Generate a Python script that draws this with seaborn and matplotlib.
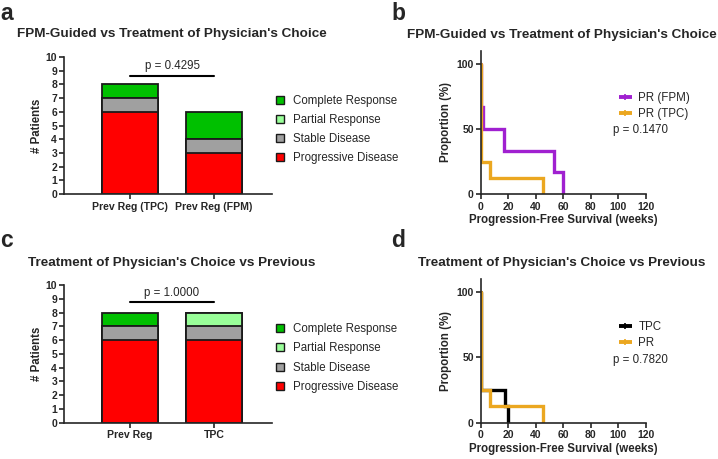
import numpy as np
import pandas as pd
import matplotlib
matplotlib.use("Agg")
import matplotlib.pyplot as plt
from matplotlib.lines import Line2D
import seaborn as sns

# 데이터: 반응별 환자 수
responses = ['Complete Response', 'Partial Response', 'Stable Disease', 'Progressive Disease']
resp_colors = ['#00C000', '#99FF99', '#A0A0A0', '#FF0000']

cats_a = ['Prev Reg (TPC)', 'Prev Reg (FPM)']
pd_a = [6, 3]
sd_a = [1, 1]
pr_a = [0, 0]
cr_a = [1, 2]

cats_c = ['Prev Reg', 'TPC']
pd_c = [6, 6]
sd_c = [1, 1]
pr_c = [0, 1]
cr_c = [1, 0]

# 무진행 생존 (weeks, %)
fpm_t = [0, 0, 2, 17, 53, 60]
fpm_s = [100, 66.7, 50, 33.3, 16.7, 0]
tpc_b_t = [0, 0, 7, 45]
tpc_b_s = [100, 25, 12.5, 0]
tpc_d_t = [0, 0, 18, 20]
tpc_d_s = [100, 25, 12.5, 0]
pr_d_t = [0, 0, 7, 45]
pr_d_s = [100, 25, 12.5, 0]

sns.set_style("ticks")
plt.rcParams['font.family'] = ['Liberation Sans', 'DejaVu Sans']
plt.rcParams['axes.linewidth'] = 1.2
plt.rcParams['xtick.major.width'] = 1.2
plt.rcParams['ytick.major.width'] = 1.2
plt.rcParams['xtick.major.size'] = 3.5
plt.rcParams['ytick.major.size'] = 3.5
plt.rcParams['xtick.major.pad'] = 2
plt.rcParams['ytick.major.pad'] = 1.5

W, H = 718, 459
fig = plt.figure(figsize=(W / 100, H / 100), dpi=100)


def px_axes(l, t, r, b):
    return fig.add_axes([l / W, 1 - b / H, (r - l) / W, (b - t) / H])


def stacked_bars(ax, cats, pdv, sdv, prv, crv, p_text, line_y, text_y):
    pdv, sdv, prv, crv = map(np.array, (pdv, sdv, prv, crv))
    layers = [pdv + sdv + prv + crv, pdv + sdv + prv, pdv + sdv, pdv]
    for vals, col in zip(layers, resp_colors):
        sns.barplot(x=cats, y=vals, color=col, saturation=1, width=0.667,
                    edgecolor='#1a1a1a', linewidth=1.3, ax=ax)
    ax.set_xlim(-0.786, 1.69)
    ax.set_ylim(0, 10)
    ax.set_yticks(range(11), labels=[str(i) for i in range(11)],
                  fontweight='bold', fontsize=7.5)
    ax.set_xticks([0, 1], labels=cats, fontweight='bold', fontsize=7.6)
    ax.set_ylabel('# Patients', fontweight='bold', fontsize=8.3, labelpad=2)
    ax.set_xlabel('')
    sns.despine(ax=ax)
    ax.plot([0, 1], [line_y, line_y], color='black', lw=1.5, clip_on=False)
    ax.text(0.5, text_y, p_text, ha='center', va='center', fontsize=8.3)
    handles = [Line2D([], [], marker='s', ls='none', markersize=5.5,
                      markerfacecolor=c, markeredgecolor='#1a1a1a', markeredgewidth=1)
               for c in resp_colors]
    box = ax.get_position()
    cy = box.y0 + box.height * 0.47
    fig.legend(handles, responses, loc='center left',
               bbox_to_anchor=(270 / W, cy), frameon=False, fontsize=8.3,
               handlelength=0.8, handletextpad=0.7, borderpad=0, labelspacing=0.62)


def km_plot(ax, curves, p_text, leg_y, p_y):
    handles, labels = [], []
    for t, s, col, lab in curves:
        df = pd.DataFrame({'t': t, 's': s})
        sns.lineplot(data=df, x='t', y='s', estimator=None, sort=False,
                     drawstyle='steps-post', color=col, lw=2.4, ax=ax,
                     solid_joinstyle='miter')
        handles.append(Line2D([], [], color=col, lw=2.8, marker='|',
                              markersize=4, markeredgewidth=1.2,
                              solid_capstyle='butt'))
        labels.append(lab)
    ax.set_xlim(0, 120)
    ax.set_ylim(0, 110)
    ax.set_xticks(range(0, 121, 20), labels=[str(v) for v in range(0, 121, 20)],
                  fontweight='bold', fontsize=7.5)
    ax.set_yticks([0, 50, 100], labels=['0', '50', '100'],
                  fontweight='bold', fontsize=7.5)
    ax.set_xlabel('Progression-Free Survival (weeks)', fontweight='bold',
                  fontsize=8.3, labelpad=2)
    ax.set_ylabel('Proportion (%)', fontweight='bold', fontsize=8.3, labelpad=3)
    sns.despine(ax=ax)
    fig.legend(handles, labels, loc='center left', numpoints=1,
               bbox_to_anchor=(613 / W, 1 - leg_y / H), frameon=False,
               fontsize=8.3, handlelength=1.15, handletextpad=0.55,
               borderpad=0, labelspacing=0.28)
    fig.text(613 / W, 1 - p_y / H, p_text, ha='left', va='center', fontsize=8.3)


ax_a = px_axes(64, 57, 272, 194)
stacked_bars(ax_a, cats_a, pd_a, sd_a, pr_a, cr_a, 'p = 0.4295', 8.6, 9.35)

ax_c = px_axes(64, 285, 272, 422.7)
stacked_bars(ax_c, cats_c, pd_c, sd_c, pr_c, cr_c, 'p = 1.0000', 8.8, 9.45)

ax_b = px_axes(480.7, 51, 645.7, 194)
km_plot(ax_b, [(fpm_t, fpm_s, '#A020D0', 'PR (FPM)'),
               (tpc_b_t, tpc_b_s, '#EBA720', 'PR (TPC)')],
        'p = 0.1470', 106, 130)

ax_d = px_axes(480.7, 279, 645.7, 422.7)
km_plot(ax_d, [(tpc_d_t, tpc_d_s, '#000000', 'TPC'),
               (pr_d_t, pr_d_s, '#EBA720', 'PR')],
        'p = 0.7820', 335, 360)

# 제목
fig.text(172 / W, 1 - 34 / H, "FPM-Guided vs Treatment of Physician's Choice",
         ha='center', va='center', fontsize=9.7, fontweight='bold')
fig.text(562 / W, 1 - 35 / H, "FPM-Guided vs Treatment of Physician's Choice",
         ha='center', va='center', fontsize=9.7, fontweight='bold')
fig.text(172 / W, 1 - 263 / H, "Treatment of Physician's Choice vs Previous",
         ha='center', va='center', fontsize=9.7, fontweight='bold')
fig.text(562 / W, 1 - 263 / H, "Treatment of Physician's Choice vs Previous",
         ha='center', va='center', fontsize=9.7, fontweight='bold')

for lab, x, y in [('a', 0, 13), ('b', 391, 13), ('c', 0, 241), ('d', 391, 241)]:
    fig.text(x / W, 1 - y / H, lab, ha='left', va='center', fontsize=16.5,
             fontweight='bold')

fig.savefig('out.png', dpi=100)
